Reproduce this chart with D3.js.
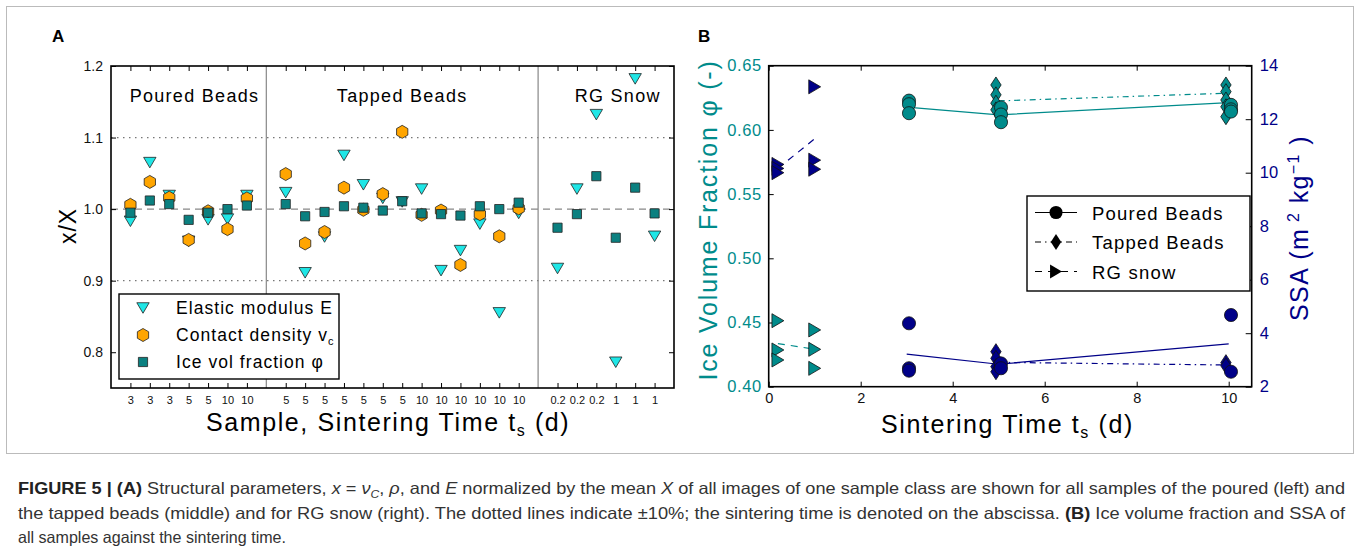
<!DOCTYPE html>
<html lang="en">
<head>
<meta charset="UTF-8">
<title>Figure 5</title>
<script src="https://d3js.org/d3.v7.min.js"></script>
<style>
  body { margin: 0; background: #fff; }
  svg text { font-family: "Liberation Sans", Arial, sans-serif; }
  .cap text { font-family: "Liberation Sans Narrow", "Liberation Sans", Arial, sans-serif; }
</style>
</head>
<body>
<div id="graph"></div>
<script>
// ---------- panel A data (normalized x/X) ----------
const pouredLabels = ["3", "3", "3", "5", "5", "10", "10"];
const tappedLabels = ["5", "5", "5", "5", "5", "5", "5", "10", "10", "10", "10", "10", "10"];
const snowLabels = ["0.2", "0.2", "0.2", "1", "1", "1"];

const pouredE = [0.983, 1.065, 1.019, 0.955, 0.985, 0.986, 1.019];
const tappedE = [1.023, 0.911, 0.961, 1.075, 1.034, 1.015, 1.010, 1.028, 0.914, 0.942, 0.979, 0.855, 0.994];
const snowE = [0.917, 1.028, 1.132, 0.786, 1.182, 0.962];

const pouredNu = [1.006, 1.038, 1.016, 0.957, 0.997, 0.972, 1.015];
const tappedNu = [1.049, 0.952, 0.968, 1.030, 0.999, 1.021, 1.108, 0.992, 0.998, 0.922, 0.993, 0.962, 1.001];

const pouredPhi = [0.995, 1.012, 1.007, 0.985, 0.995, 1.000, 1.005];
const tappedPhi = [1.007, 0.990, 0.996, 1.004, 1.002, 0.998, 1.011, 0.994, 0.993, 0.991, 1.004, 1.000, 1.009];
const snowPhi = [0.974, 0.993, 1.046, 0.960, 1.030, 0.994];

const yTicksA = [0.8, 0.9, 1.0, 1.1, 1.2];

// ---------- panel B data ----------
const pouredTimePhi = [3, 3, 3, 5, 5, 5, 10, 10, 10];
const pouredPhiB = [0.6228, 0.6200, 0.6130, 0.6175, 0.6120, 0.6060, 0.6195, 0.6160, 0.6143];
const pouredTimeSSA = [3, 3, 3, 5, 5, 10, 10];
const pouredSSA = [4.37, 2.69, 2.60, 2.87, 2.69, 4.68, 2.56];

const tappedTimePhi = [5, 5, 5, 5, 10, 10, 10, 10, 10];
const tappedPhiB = [0.6350, 0.6273, 0.6208, 0.6156, 0.6350, 0.6298, 0.6233, 0.6180, 0.6103];
const tappedTimeSSA = [5, 5, 5, 5, 10, 10];
const tappedSSA = [3.31, 3.06, 2.75, 2.56, 2.90, 2.78];

const snowTime = [0.2, 0.2, 0.2, 1, 1, 1];
const snowPhiB = [0.4514, 0.4286, 0.4208, 0.4442, 0.4291, 0.4143];
const snowSSA = [10.31, 10.16, 10.00, 13.21, 10.47, 10.13];

// class mean lines
const pouredLineT = [3, 5, 10];
const pouredLinePhi = [0.6177, 0.6117, 0.6212];
const pouredLineSSA = [3.22, 2.84, 3.60];
const tappedLineT = [5, 10];
const tappedLinePhi = [0.6226, 0.6286];
const tappedLineSSA = [2.91, 2.81];
const snowLineT = [0.2, 1];
const snowLinePhi = [0.4336, 0.4292];
const snowLineSSA = [10.16, 11.27];

const xTicksB = [0, 2, 4, 6, 8, 10];
const phiTicks = [0.40, 0.45, 0.50, 0.55, 0.60, 0.65];
const ssaTicks = [2, 4, 6, 8, 10, 12, 14];

// ---------- colours ----------
const cyan = "#1fe6e6", orange = "#ffa500", teal = "#0b8080";
const tealB = "#008b8b", navy = "#000088";

// ---------- marker paths ----------
function triDown(r) { return `M${-r},${-r * 0.85}L${r},${-r * 0.85}L0,${r * 0.85}Z`; }
function triRight(r) { return `M${-r * 0.85},${-r}L${r * 0.85},0L${-r * 0.85},${r}Z`; }
function hexagon(r) {
    const p = d3.range(6).map(k => {
        const a = (-90 + k * 60) * Math.PI / 180;
        return [r * Math.cos(a), r * Math.sin(a)];
    });
    return "M" + p.map(q => q.join(",")).join("L") + "Z";
}
function square(r) { return `M${-r},${-r}H${r}V${r}H${-r}Z`; }
function thinDiamond(h, w) { return `M0,${-h}L${w},0L0,${h}L${-w},0Z`; }

const W = 1360, H = 559;
const svg = d3.select("#graph").append("svg").attr("width", W).attr("height", H);

// figure border
svg.append("rect").attr("x", 6.5).attr("y", 6.5).attr("width", W - 13).attr("height", 447)
    .attr("fill", "none").attr("stroke", "#bbb").attr("stroke-width", 1);

// ======================= PANEL A =======================
const pouredIdx = pouredLabels.map((d, i) => i);
const tappedIdx = tappedLabels.map((d, i) => i + 8);
const snowIdx = snowLabels.map((d, i) => i + 22);
const allIdx = pouredIdx.concat(tappedIdx, snowIdx);
const allLabels = pouredLabels.concat(tappedLabels, snowLabels);

const xA = d3.scaleLinear().domain([-1, 28]).range([111, 674]);
const yA = d3.scaleLinear().domain([0.75, 1.2]).range([388, 66]);

const gA = svg.append("g");

// reference lines
gA.selectAll(".dot10").data([0.9, 1.1]).enter().append("line")
    .attr("x1", xA(-1)).attr("x2", xA(28)).attr("y1", d => yA(d)).attr("y2", d => yA(d))
    .attr("stroke", "#777").attr("stroke-width", 1.2).attr("stroke-dasharray", "1.5,4.5");
gA.append("line").attr("x1", xA(-1)).attr("x2", xA(28)).attr("y1", yA(1)).attr("y2", yA(1))
    .attr("stroke", "#888").attr("stroke-width", 1.3).attr("stroke-dasharray", "7,5");

// class separators
gA.selectAll(".sep").data([7, 21]).enter().append("line")
    .attr("x1", d => xA(d)).attr("x2", d => xA(d)).attr("y1", yA(1.2)).attr("y2", yA(0.75))
    .attr("stroke", "#888").attr("stroke-width", 1.2);

// axes
const xAxA = d3.axisBottom(xA).tickValues(allIdx).tickSize(-5).tickPadding(8)
    .tickFormat((d, i) => allLabels[i]);
const gx = gA.append("g").attr("transform", `translate(0,${yA(0.75)})`).call(xAxA);
gx.selectAll("text").attr("font-size", 11).attr("fill", "#111");
gA.append("g").attr("transform", `translate(0,${yA(1.2)})`)
    .call(d3.axisTop(xA).tickValues(allIdx).tickSize(-5).tickFormat(""));
const gy = gA.append("g").attr("transform", `translate(${xA(-1)},0)`)
    .call(d3.axisLeft(yA).tickValues(yTicksA).tickSize(-5).tickPadding(8).tickFormat(d3.format(".1f")));
gy.selectAll("text").attr("font-size", 14).attr("fill", "#111");
gA.append("g").attr("transform", `translate(${xA(28)},0)`)
    .call(d3.axisRight(yA).tickValues(yTicksA).tickSize(-5).tickFormat(""));
gA.selectAll(".domain").remove();
gA.append("rect").attr("x", xA(-1)).attr("y", yA(1.2))
    .attr("width", xA(28) - xA(-1)).attr("height", yA(0.75) - yA(1.2))
    .attr("fill", "none").attr("stroke", "#000").attr("stroke-width", 1.6);

// class labels
const classLab = [["Poured Beads", 3.3], ["Tapped Beads", 14], ["RG Snow", 25.1]];
gA.selectAll(".cls").data(classLab).enter().append("text")
    .attr("x", d => xA(d[1])).attr("y", 102).attr("text-anchor", "middle")
    .attr("font-size", 18).attr("letter-spacing", 1.3).text(d => d[0]);

// markers: E triangles, contact density hexagons, ice vol squares
function marks(idx, vals, path, fill) {
    gA.append("g").selectAll("path").data(vals).enter().append("path")
        .attr("d", path)
        .attr("transform", (d, i) => `translate(${xA(idx[i])},${yA(d)})`)
        .attr("fill", fill).attr("stroke", "#222").attr("stroke-width", 0.8);
}
marks(pouredIdx, pouredE, triDown(6.2), cyan);
marks(tappedIdx, tappedE, triDown(6.2), cyan);
marks(snowIdx, snowE, triDown(6.2), cyan);
marks(pouredIdx, pouredNu, hexagon(6.5), orange);
marks(tappedIdx, tappedNu, hexagon(6.5), orange);
marks(pouredIdx, pouredPhi, square(4.6), teal);
marks(tappedIdx, tappedPhi, square(4.6), teal);
marks(snowIdx, snowPhi, square(4.6), teal);

// legend A
const legA = gA.append("g");
legA.append("rect").attr("x", 119).attr("y", 294).attr("width", 220).attr("height", 85)
    .attr("fill", "#fff").attr("stroke", "#000").attr("stroke-width", 1.4);
const legItemsA = [[triDown(6.2), cyan, "Elastic modulus E"], [hexagon(6.5), orange, "Contact density v"], [square(4.6), teal, "Ice vol fraction φ"]];
legItemsA.forEach((d, i) => {
    const y = 308 + i * 27;
    legA.append("path").attr("d", d[0]).attr("transform", `translate(143,${y})`)
        .attr("fill", d[1]).attr("stroke", "#222").attr("stroke-width", 0.8);
    const t = legA.append("text").attr("x", 176).attr("y", y + 6).attr("font-size", 17.5)
        .attr("letter-spacing", 1.05).text(d[2]);
    if (i === 1) t.append("tspan").attr("dy", 4).attr("font-size", 11).attr("letter-spacing", 0).text("c");
});

// axis titles A
gA.append("text").attr("transform", "translate(76,226) rotate(-90)").attr("text-anchor", "middle")
    .attr("font-size", 23).attr("letter-spacing", 1).text("x/X");
const tA = gA.append("text").attr("x", 206).attr("y", 431).attr("font-size", 25).attr("letter-spacing", 1.6);
tA.append("tspan").text("Sample, Sintering Time t");
tA.append("tspan").attr("dy", 5).attr("font-size", 16).text("s");
tA.append("tspan").attr("dy", -5).text(" (d)");

svg.append("text").attr("x", 52).attr("y", 42).attr("font-size", 17).attr("font-weight", "bold").text("A");
svg.append("text").attr("x", 698).attr("y", 42).attr("font-size", 17).attr("font-weight", "bold").text("B");

// ======================= PANEL B =======================
const xB = d3.scaleLinear().domain([0, 10.5]).range([768.7, 1251.7]);
const yPhi = d3.scaleLinear().domain([0.40, 0.65]).range([386.7, 65.7]);
const ySSA = d3.scaleLinear().domain([2, 14]).range([386.7, 65.7]);
const gB = svg.append("g");

const gxb = gB.append("g").attr("transform", `translate(0,${yPhi(0.40)})`)
    .call(d3.axisBottom(xB).tickValues(xTicksB).tickSize(-5).tickPadding(6).tickFormat(d3.format("d")));
gxb.selectAll("text").attr("font-size", 14.5).attr("fill", "#111");
gB.append("g").attr("transform", `translate(0,${yPhi(0.65)})`)
    .call(d3.axisTop(xB).tickValues(xTicksB).tickSize(-5).tickFormat(""));
const gyl = gB.append("g").attr("transform", `translate(${xB(0)},0)`)
    .call(d3.axisLeft(yPhi).tickValues(phiTicks).tickSize(-5).tickPadding(7).tickFormat(d3.format(".2f")));
gyl.selectAll("text").attr("font-size", 16.5).attr("fill", tealB).attr("letter-spacing", 0.6);
const gyr = gB.append("g").attr("transform", `translate(${xB(10.5)},0)`)
    .call(d3.axisRight(ySSA).tickValues(ssaTicks).tickSize(-6).tickPadding(8).tickFormat(d3.format("d")));
gyr.selectAll("text").attr("font-size", 16.5).attr("fill", navy);
gB.selectAll(".domain").remove();
gB.append("rect").attr("x", xB(0)).attr("y", yPhi(0.65))
    .attr("width", xB(10.5) - xB(0)).attr("height", yPhi(0.40) - yPhi(0.65))
    .attr("fill", "none").attr("stroke", "#000").attr("stroke-width", 1.6);

// mean lines
function meanLine(ts, vs, ys, color, dash) {
    gB.append("path").datum(ts.map((t, i) => [t, vs[i]]))
        .attr("d", d3.line().x(d => xB(d[0])).y(d => ys(d[1])))
        .attr("fill", "none").attr("stroke", color).attr("stroke-width", 1.2)
        .attr("stroke-dasharray", dash);
}
const dashDot = "6,4,1.5,4", dashed = "7,6";
meanLine(pouredLineT, pouredLinePhi, yPhi, tealB, null);
meanLine(tappedLineT, tappedLinePhi, yPhi, tealB, dashDot);
meanLine(snowLineT, snowLinePhi, yPhi, tealB, dashed);
meanLine(pouredLineT, pouredLineSSA, ySSA, navy, null);
meanLine(tappedLineT, tappedLineSSA, ySSA, navy, dashDot);
meanLine(snowLineT, snowLineSSA, ySSA, navy, dashed);

function pts(ts, vs, ys, path, fill, dx) {
    gB.append("g").selectAll("path").data(vs).enter().append("path")
        .attr("d", path)
        .attr("transform", (d, i) => `translate(${xB(ts[i] + dx)},${ys(d)})`)
        .attr("fill", fill).attr("stroke", "#111").attr("stroke-width", 0.8);
}
const circ = d3.symbol().type(d3.symbolCircle).size(135)();
const dia = thinDiamond(8, 5.2), triR = triRight(7);
pts(tappedTimePhi, tappedPhiB, yPhi, dia, tealB, -0.06);
pts(pouredTimePhi, pouredPhiB, yPhi, circ, tealB, 0.05);
pts(snowTime, snowPhiB, yPhi, triR, tealB, 0);
pts(tappedTimeSSA, tappedSSA, ySSA, dia, navy, -0.06);
pts(pouredTimeSSA, pouredSSA, ySSA, circ, navy, 0.05);
pts(snowTime, snowSSA, ySSA, triR, navy, 0);

// legend B
const legB = gB.append("g");
legB.append("rect").attr("x", 1027).attr("y", 196).attr("width", 223).attr("height", 95)
    .attr("fill", "#fff").attr("stroke", "#000").attr("stroke-width", 1.4);
const legItemsB = [["Poured Beads", circ, null], ["Tapped Beads", dia, dashDot], ["RG snow", triR, dashed]];
legItemsB.forEach((d, i) => {
    const y = 212.5 + i * 29.5;
    legB.append("line").attr("x1", 1035).attr("x2", 1077).attr("y1", y).attr("y2", y)
        .attr("stroke", "#000").attr("stroke-width", 1.2).attr("stroke-dasharray", d[2]);
    legB.append("path").attr("d", d[1]).attr("transform", `translate(1056,${y})`).attr("fill", "#000");
    legB.append("text").attr("x", 1092).attr("y", y + 7).attr("font-size", 18.5)
        .attr("letter-spacing", 1.2).text(d[0]);
});

// axis titles B
gB.append("text").attr("transform", "translate(717,220) rotate(-90)").attr("text-anchor", "middle")
    .attr("font-size", 25).attr("letter-spacing", 1.8).attr("fill", tealB)
    .text("Ice Volume Fraction φ (-)");
const tR = gB.append("text").attr("transform", "translate(1308,228) rotate(-90)")
    .attr("text-anchor", "middle").attr("font-size", 25).attr("letter-spacing", 1.4).attr("fill", navy);
tR.append("tspan").text("SSA (m");
tR.append("tspan").attr("dy", -9).attr("font-size", 16).text(" 2");
tR.append("tspan").attr("dy", 9).text(" kg");
tR.append("tspan").attr("dy", -9).attr("font-size", 16).text("−1");
tR.append("tspan").attr("dy", 9).text(" )");
const tB = gB.append("text").attr("x", 881).attr("y", 433).attr("font-size", 25).attr("letter-spacing", 1.6);
tB.append("tspan").text("Sintering Time t");
tB.append("tspan").attr("dy", 5).attr("font-size", 16).text("s");
tB.append("tspan").attr("dy", -5).text(" (d)");

// ======================= CAPTION =======================
const cap = svg.append("g").attr("class", "cap").attr("fill", "#333").attr("font-size", 16.5);
const c1 = cap.append("text").attr("x", 18).attr("y", 494)
    .attr("textLength", 1327).attr("lengthAdjust", "spacingAndGlyphs");
c1.append("tspan").attr("font-weight", "bold").attr("fill", "#222").text("FIGURE 5 | (A)");
c1.append("tspan").text(" Structural parameters, ");
c1.append("tspan").attr("font-style", "italic").text("x");
c1.append("tspan").text(" = ");
c1.append("tspan").attr("font-style", "italic").text("ν");
c1.append("tspan").attr("font-style", "italic").attr("font-size", 11).attr("dy", 4).text("C");
c1.append("tspan").attr("dy", -4).text(", ");
c1.append("tspan").attr("font-style", "italic").text("ρ");
c1.append("tspan").text(", and ");
c1.append("tspan").attr("font-style", "italic").text("E");
c1.append("tspan").text(" normalized by the mean ");
c1.append("tspan").attr("font-style", "italic").text("X");
c1.append("tspan").text(" of all images of one sample class are shown for all samples of the poured (left) and");
const c2 = cap.append("text").attr("x", 18).attr("y", 519)
    .attr("textLength", 1327).attr("lengthAdjust", "spacingAndGlyphs");
c2.append("tspan").text("the tapped beads (middle) and for RG snow (right). The dotted lines indicate ±10%; the sintering time is denoted on the abscissa. ");
c2.append("tspan").attr("font-weight", "bold").attr("fill", "#222").text("(B)");
c2.append("tspan").text(" Ice volume fraction and SSA of");
cap.append("text").attr("x", 18).attr("y", 543)
    .attr("textLength", 268).attr("lengthAdjust", "spacingAndGlyphs")
    .text("all samples against the sintering time.");
</script>
</body>
</html>
